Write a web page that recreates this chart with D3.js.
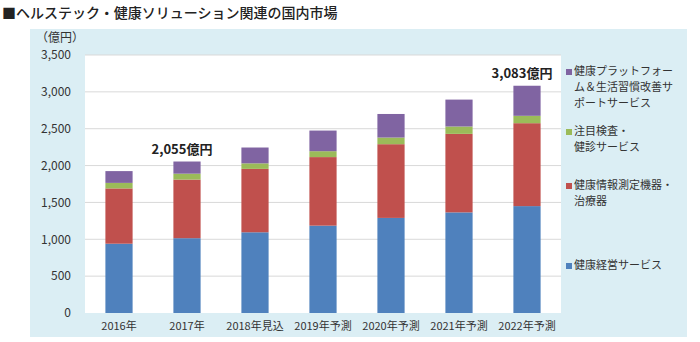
<!DOCTYPE html>
<html>
<head>
<meta charset="utf-8">
<script src="https://cdn.jsdelivr.net/npm/d3@7"></script>
<style>
  body { margin: 0; background: #fff; }
  text { font-family: "Noto Sans CJK JP", "Noto Sans", sans-serif; }
</style>
</head>
<body>
<div id="chart"></div>
<script>
const years = ['2016年', '2017年', '2018年見込', '2019年予測', '2020年予測', '2021年予測', '2022年予測'];
const keieiService = [940, 1015, 1095, 1185, 1290, 1365, 1450];
const sokuteiKiki = [750, 795, 860, 930, 1000, 1065, 1125];
const kensaKenshin = [75, 80, 75, 80, 90, 100, 100];
const platform = [160, 165, 215, 280, 320, 365, 408];
const yTicks = [0, 500, 1000, 1500, 2000, 2500, 3000, 3500];
const totalLabels = [{ year: '2017年', text: '2,055億円' }, { year: '2022年予測', text: '3,083億円' }];

const keys = ['keiei', 'sokutei', 'kensa', 'platform'];
const colors = { keiei: '#4f81bd', sokutei: '#c0504d', kensa: '#9bbb59', platform: '#8064a2' };
const legendItems = [
  { key: 'platform', lines: ['健康プラットフォー', 'ム＆生活習慣改善サ', 'ポートサービス'], y: 75 },
  { key: 'kensa', lines: ['注目検査・', '健診サービス'], y: 135 },
  { key: 'sokutei', lines: ['健康情報測定機器・', '治療器'], y: 189 },
  { key: 'keiei', lines: ['健康経営サービス'], y: 269 }
];

const data = years.map((y, i) => ({
  year: y, keiei: keieiService[i], sokutei: sokuteiKiki[i], kensa: kensaKenshin[i], platform: platform[i]
}));

const width = 700, height = 342;
const plot = { left: 85, right: 561, top: 55, bottom: 313 };

const svg = d3.select('#chart').append('svg')
    .attr('width', width)
    .attr('height', height);

// title
svg.append('text')
    .attr('x', 2).attr('y', 18)
    .attr('font-size', 14).attr('font-weight', 500).attr('fill', '#222')
    .text('■ヘルステック・健康ソリューション関連の国内市場');

// panel
svg.append('rect')
    .attr('x', 30).attr('y', 29).attr('width', 657).attr('height', 308)
    .attr('fill', '#dbeef4');

svg.append('rect')
    .attr('x', plot.left).attr('y', plot.top)
    .attr('width', plot.right - plot.left).attr('height', plot.bottom - plot.top)
    .attr('fill', '#fff');

const x = d3.scaleBand()
    .domain(years)
    .range([plot.left, plot.right])
    .paddingInner(0.6).paddingOuter(0.3);

const y = d3.scaleLinear()
    .domain([0, 3500])
    .range([plot.bottom, plot.top]);

// grid
svg.append('g')
  .selectAll('line')
  .data(yTicks.filter(d => d > 0))
  .enter().append('line')
    .attr('x1', plot.left).attr('x2', plot.right)
    .attr('y1', d => y(d)).attr('y2', d => y(d))
    .attr('stroke', '#d9d9d9');

// y axis
const yAxis = svg.append('g')
    .attr('transform', `translate(${plot.left},0)`)
    .call(d3.axisLeft(y).tickValues(yTicks).tickSize(0).tickPadding(14).tickFormat(d3.format(',')));
yAxis.select('.domain').remove();
yAxis.selectAll('text')
    .attr('font-size', 12).attr('fill', '#333')
    .style('font-family', '"Noto Sans CJK JP", sans-serif');

svg.append('text')
    .attr('x', 36).attr('y', 42)
    .attr('font-size', 12).attr('fill', '#333')
    .text('（億円）');

// bars
const stack = d3.stack().keys(keys)(data);
svg.append('g')
  .selectAll('g')
  .data(stack)
  .enter().append('g')
    .attr('fill', d => colors[d.key])
  .selectAll('rect')
  .data(d => d)
  .enter().append('rect')
    .attr('x', d => x(d.data.year))
    .attr('width', x.bandwidth())
    .attr('y', d => y(d[1]))
    .attr('height', d => y(d[0]) - y(d[1]));

// x axis
const xAxis = svg.append('g')
    .attr('transform', `translate(0,${plot.bottom})`)
    .call(d3.axisBottom(x).tickSize(0).tickPadding(9));
xAxis.select('.domain').remove();
xAxis.selectAll('text')
    .attr('font-size', 11).attr('fill', '#333')
    .style('font-family', '"Noto Sans CJK JP", sans-serif');

// total labels
svg.append('g')
  .selectAll('text')
  .data(totalLabels)
  .enter().append('text')
    .attr('x', d => x(d.year) + x.bandwidth() / 2)
    .attr('dx', -5)
    .attr('y', d => y(d3.sum(keys, k => data[years.indexOf(d.year)][k])) - 8)
    .attr('text-anchor', 'middle')
    .attr('font-size', 13).attr('font-weight', 700).attr('fill', '#222')
    .text(d => d.text);

// legend
const legend = svg.append('g');
const items = legend.selectAll('g')
  .data(legendItems)
  .enter().append('g')
    .attr('transform', d => `translate(566,${d.y})`);
items.append('rect')
    .attr('x', 0).attr('y', -6).attr('width', 6).attr('height', 6)
    .attr('fill', d => colors[d.key]);
items.selectAll('text')
  .data(d => d.lines)
  .enter().append('text')
    .attr('x', 8)
    .attr('y', (d, i) => i * 16)
    .attr('font-size', 11).attr('fill', '#333')
    .text(d => d);
</script>
</body>
</html>
